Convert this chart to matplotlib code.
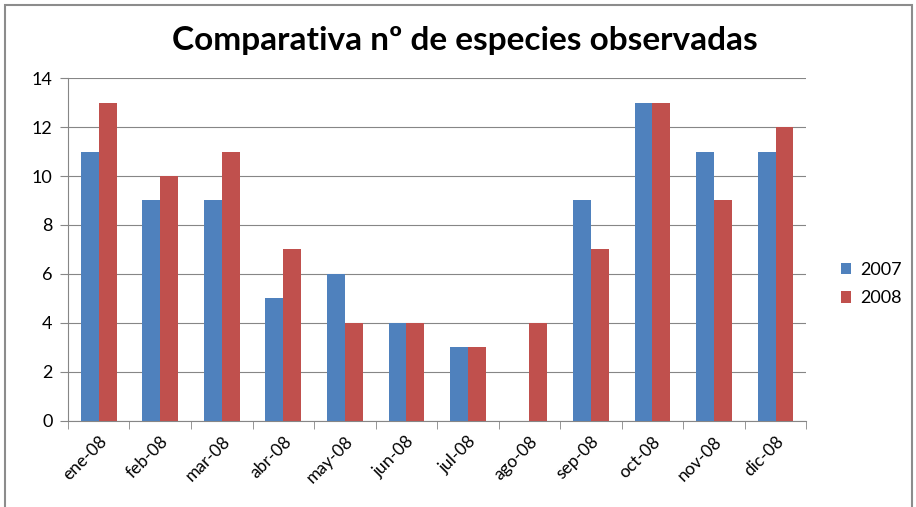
"""
Comparativa del numero de especies observadas por mes, 2007 vs 2008.
"""

import matplotlib
matplotlib.use('Agg')
import matplotlib.pyplot as plt
import numpy as np
from matplotlib.patches import Rectangle

# Datos
MESES = ['ene-08', 'feb-08', 'mar-08', 'abr-08', 'may-08', 'jun-08',
         'jul-08', 'ago-08', 'sep-08', 'oct-08', 'nov-08', 'dic-08']
ESPECIES_2007 = [11, 9, 9, 5, 6, 4, 3, 0, 9, 13, 11, 11]
ESPECIES_2008 = [13, 10, 11, 7, 4, 4, 3, 4, 7, 13, 9, 12]

AZUL = '#4F81BD'
ROJO = '#C0504D'
GRIS = '#868686'

plt.rcParams['font.family'] = ['Lato', 'DejaVu Sans']

fig = plt.figure(figsize=(9.16, 5.07), dpi=100)
fig.patches.append(Rectangle((0.006, -0.01), 0.99, 1.0, transform=fig.transFigure,
                             fill=False, edgecolor='#8c8c8c', linewidth=1.5))

ax = fig.add_axes([0.0742, 0.170, 0.806, 0.676])

x = np.arange(len(MESES))
w = 0.29
ax.bar(x - w / 2, ESPECIES_2007, width=w, color=AZUL, label='2007', zorder=3)
ax.bar(x + w / 2, ESPECIES_2008, width=w, color=ROJO, label='2008', zorder=3)

ax.set_xlim(-0.5, len(MESES) - 0.5)
ax.set_ylim(0, 14)
ax.set_yticks(range(0, 15, 2))
ax.yaxis.grid(True, color=GRIS, linewidth=0.8, zorder=0)

ax.set_xticks(x)
ax.set_xticklabels(MESES, rotation=45, ha='right', rotation_mode='anchor', fontsize=12.5)
ax.set_xticks(np.arange(-0.5, len(MESES), 1), minor=True)
ax.tick_params(axis='x', which='major', length=0, pad=9)
ax.tick_params(axis='x', which='minor', length=6, color=GRIS, direction='out')
ax.tick_params(axis='y', length=6, color=GRIS, labelsize=13, pad=5)

for side in ['top', 'right']:
    ax.spines[side].set_visible(False)
for side in ['left', 'bottom']:
    ax.spines[side].set_color(GRIS)

fig.text(0.507, 0.92, 'Comparativa nº de especies observadas',
         ha='center', va='center', fontsize=24, fontweight='bold')

fig.legend(loc='center left', bbox_to_anchor=(0.9, 0.44), frameon=False,
           fontsize=13, handlelength=0.6, handleheight=0.6, handletextpad=0.5,
           labelspacing=0.7)

fig.savefig('out.png', dpi=100, facecolor='white')
